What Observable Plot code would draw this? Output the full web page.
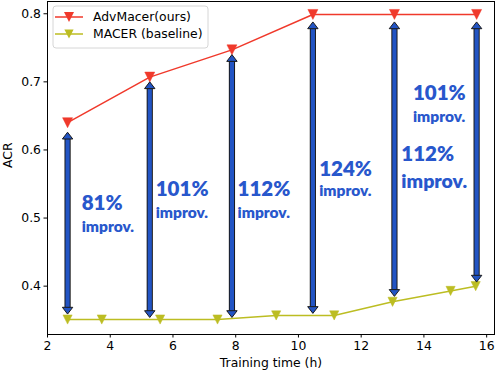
<!DOCTYPE html>
<html>
<head>
<meta charset="utf-8">
<script src="https://cdn.jsdelivr.net/npm/d3@7"></script>
<script src="https://cdn.jsdelivr.net/npm/@observablehq/plot@0.6"></script>
<style>
  html, body { margin: 0; padding: 0; background: #fff; }
  #chart svg { display: block; }
</style>
</head>
<body>
<div id="chart"></div>
<script>
// ---- data ----
const advX = [2.64, 5.26, 7.88, 10.46, 13.06, 15.68];
const advACR = [0.640, 0.707, 0.747, 0.799, 0.799, 0.799];
const macerX = [2.64, 3.73, 5.59, 7.42, 9.29, 11.14, 13.0, 14.85, 15.65];
const macerACR = [0.351, 0.351, 0.351, 0.351, 0.357, 0.357, 0.377, 0.393, 0.400];

// gap arrows (drawn at AdvMacer x positions)
const arrowTop = [0.626, 0.700, 0.740, 0.788, 0.788, 0.788];
const arrowBottom = [0.359, 0.354, 0.354, 0.360, 0.385, 0.406];

// annotations (anchor in data coordinates)
const pctLabels = ["81%", "101%", "112%", "124%", "112%", "101%"];
const pctX = [3.09, 5.45, 8.06, 10.66, 13.28, 13.65];
const pctY = [0.522, 0.542, 0.542, 0.572, 0.593, 0.683];
const impLabels = ["improv.", "improv.", "improv.", "improv.", "improv.", "improv."];
const impY = [0.487, 0.508, 0.508, 0.539, 0.554, 0.649];
const impBig = [false, false, false, false, true, false];

const xTicks = [2, 4, 6, 8, 10, 12, 14, 16];
const yTicks = [0.4, 0.5, 0.6, 0.7, 0.8];

const seriesNames = ["AdvMacer(ours)", "MACER (baseline)"];

// ---- styles ----
const RED = "#f0392b";
const OLIVE = "#bcbd22";
const BLUE = "#2254c4";
const TEXTBLUE = "#2857cc";
const AXFONT = "DejaVu Sans, sans-serif";

const adv = advX.map((x, i) => ({x, y: advACR[i]}));
const macer = macerX.map((x, i) => ({x, y: macerACR[i]}));
const arrows = advX.map((x, i) => ({x, top: arrowTop[i], bottom: arrowBottom[i]}));
const pct = pctLabels.map((t, i) => ({t, x: pctX[i], y: pctY[i]}));
const imp = impLabels.map((t, i) => ({t, x: pctX[i], y: impY[i], big: impBig[i]}));

const triDown = {
  draw(ctx, size) {
    const r = Math.sqrt(size / Math.PI);
    ctx.moveTo(0, r);
    ctx.lineTo(-r, -r);
    ctx.lineTo(r, -r);
    ctx.closePath();
  }
};
const headUp = {
  draw(ctx, size) {
    const r = Math.sqrt(size / Math.PI);
    ctx.moveTo(0, 0);
    ctx.lineTo(-r, 1.3 * r);
    ctx.lineTo(r, 1.3 * r);
    ctx.closePath();
  }
};
const headDown = {
  draw(ctx, size) {
    const r = Math.sqrt(size / Math.PI);
    ctx.moveTo(0, 0);
    ctx.lineTo(-r, -1.3 * r);
    ctx.lineTo(r, -1.3 * r);
    ctx.closePath();
  }
};

const chart = Plot.plot({
  width: 496,
  height: 374,
  marginLeft: 47,
  marginRight: 2,
  marginTop: 1,
  marginBottom: 40,
  style: {fontFamily: AXFONT, fontSize: "12.4px", color: "#000", background: "#fff"},
  x: {domain: [2.0, 16.25]},
  y: {domain: [0.329, 0.818]},
  marks: [
    Plot.axisX({ticks: xTicks, tickSize: 3.5, tickPadding: 3, label: null, tickFormat: d3.format("d"), fontSize: 12.4}),
    Plot.axisY({ticks: yTicks, tickSize: 3.5, tickPadding: 3, label: null, tickFormat: d3.format(".1f"), fontSize: 12.4}),
    Plot.text(["Training time (h)"], {frameAnchor: "bottom", dy: 32, fontSize: 12.4, fill: "#000"}),
    Plot.text(["ACR"], {frameAnchor: "left", dx: -39, rotate: -90, fontSize: 12.4, fill: "#000"}),
    // series lines
    Plot.line(adv, {x: "x", y: "y", stroke: RED, strokeWidth: 1.5}),
    Plot.line(macer, {x: "x", y: "y", stroke: OLIVE, strokeWidth: 1.5}),
    Plot.dot(adv, {x: "x", y: "y", symbol: triDown, r: 5, fill: RED, stroke: RED, strokeWidth: 0.5}),
    Plot.dot(macer, {x: "x", y: "y", symbol: triDown, r: 4.6, fill: OLIVE, stroke: OLIVE, strokeWidth: 0.5}),
    // arrows
    Plot.ruleX(arrows, {x: "x", y1: "top", y2: "bottom", insetTop: 6, insetBottom: 6, stroke: "#1a1a1a", strokeWidth: 6.2}),
    Plot.ruleX(arrows, {x: "x", y1: "top", y2: "bottom", insetTop: 5, insetBottom: 5, stroke: BLUE, strokeWidth: 4.2}),
    Plot.dot(arrows, {x: "x", y: "top", symbol: headUp, r: 5.2, fill: BLUE, stroke: "#1a1a1a", strokeWidth: 1}),
    Plot.dot(arrows, {x: "x", y: "bottom", symbol: headDown, r: 5.2, fill: BLUE, stroke: "#1a1a1a", strokeWidth: 1}),
    // annotations
    Plot.text(pct, {x: "x", y: "y", text: "t", textAnchor: "start", lineAnchor: "middle", fill: TEXTBLUE,
      fontFamily: "Lato, sans-serif", fontWeight: 800, fontSize: 20.5}),
    Plot.text(imp.filter(d => !d.big), {x: "x", y: "y", text: "t", textAnchor: "start", lineAnchor: "middle", fill: TEXTBLUE,
      fontFamily: "Lato, sans-serif", fontWeight: 800, fontSize: 15.5}),
    Plot.text(imp.filter(d => d.big), {x: "x", y: "y", text: "t", textAnchor: "start", lineAnchor: "middle", fill: TEXTBLUE,
      fontFamily: "Lato, sans-serif", fontWeight: 800, fontSize: 19.5}),
    Plot.frame({stroke: "#000", strokeWidth: 1})
  ]
});

document.getElementById("chart").appendChild(chart);

// legend (inside the plot, top-left)
const svg = d3.select(chart);
const lg = svg.append("g").attr("font-family", AXFONT).attr("font-size", 12.4).attr("text-anchor", "start");
lg.append("rect").attr("x", 53).attr("y", 6).attr("width", 155).attr("height", 42).attr("rx", 3)
  .attr("fill", "#fff").attr("fill-opacity", 0.85).attr("stroke", "#d6d6d6").attr("stroke-width", 1);
const colors = [RED, OLIVE];
seriesNames.forEach((name, i) => {
  const cy = 17 + i * 17;
  lg.append("line").attr("x1", 55).attr("x2", 83).attr("y1", cy).attr("y2", cy)
    .attr("stroke", colors[i]).attr("stroke-width", 1.5);
  const r = i === 0 ? 5 : 4.6;
  lg.append("path").attr("transform", `translate(69,${cy})`)
    .attr("d", `M0,${r}L${-r},${-r}L${r},${-r}Z`).attr("fill", colors[i]);
  lg.append("text").attr("x", 93).attr("y", cy).attr("dy", "0.35em").attr("fill", "#000")
    .attr("text-anchor", "start").text(name);
});
</script>
</body>
</html>
